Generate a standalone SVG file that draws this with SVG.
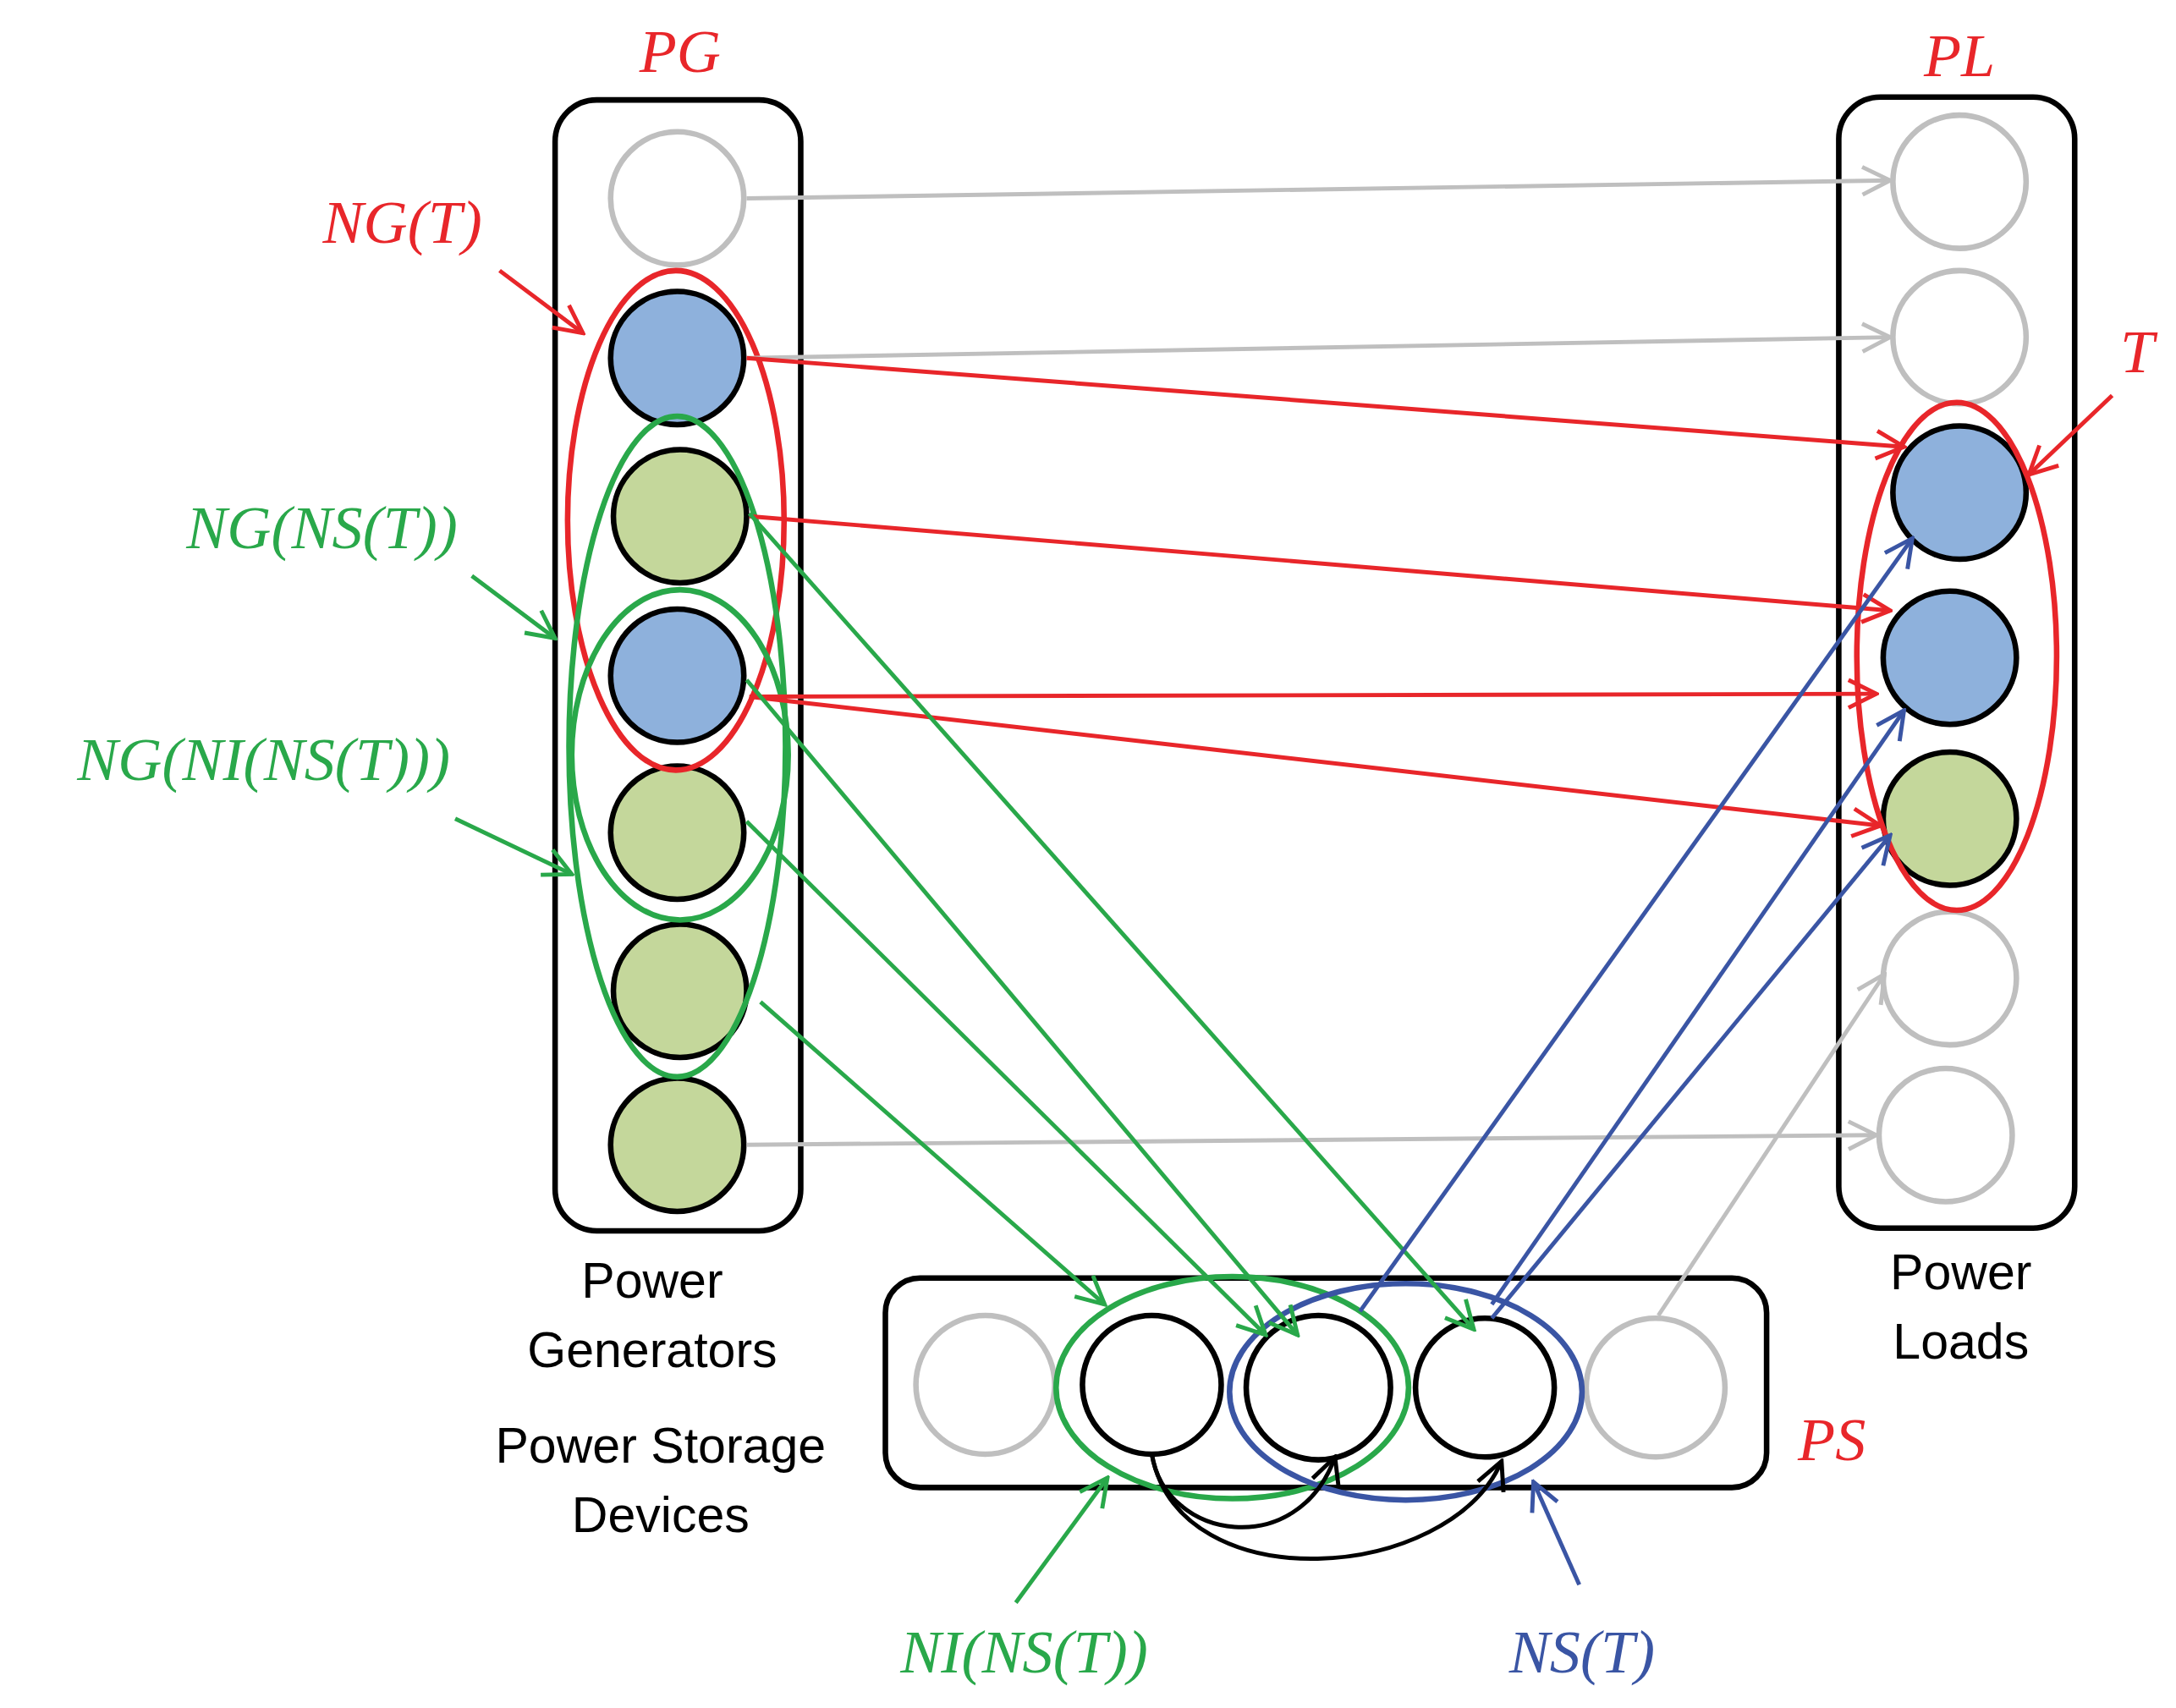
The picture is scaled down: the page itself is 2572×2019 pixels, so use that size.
<svg xmlns="http://www.w3.org/2000/svg" width="2572" height="2019" viewBox="0 0 2572 2019">
<defs>
<style>
.box{fill:none;stroke:#000;stroke-width:4}
.n{stroke:#000;stroke-width:4}
.g{fill:#fff;stroke:#bfbfbf;stroke-width:4}
.b{fill:#8eb1dc}.v{fill:#c4d79b}.w{fill:#fff}
.e{fill:none;stroke-width:4}
.lg{stroke:#bfbfbf;stroke-width:3;fill:none}
.lr{stroke:#e8262a;stroke-width:3;fill:none}
.lv{stroke:#29a84a;stroke-width:3;fill:none}
.lb{stroke:#3a55a4;stroke-width:3;fill:none}
.lk{stroke:#000;stroke-width:3;fill:none}
.m{font-family:"Liberation Serif",serif;font-style:italic;font-size:44px;text-anchor:middle}
.t{font-family:"Liberation Sans",sans-serif;font-size:36px;text-anchor:middle}
</style>
<marker id="ag" viewBox="0 0 12 12" refX="11" refY="6" markerWidth="24" markerHeight="24" markerUnits="userSpaceOnUse" orient="auto"><path d="M1,1 L11,6 L1,11" fill="none" stroke="#bfbfbf" stroke-width="1.5"/></marker>
<marker id="ar" viewBox="0 0 12 12" refX="11" refY="6" markerWidth="24" markerHeight="24" markerUnits="userSpaceOnUse" orient="auto"><path d="M1,1 L11,6 L1,11" fill="none" stroke="#e8262a" stroke-width="1.5"/></marker>
<marker id="av" viewBox="0 0 12 12" refX="11" refY="6" markerWidth="24" markerHeight="24" markerUnits="userSpaceOnUse" orient="auto"><path d="M1,1 L11,6 L1,11" fill="none" stroke="#29a84a" stroke-width="1.5"/></marker>
<marker id="ab" viewBox="0 0 12 12" refX="11" refY="6" markerWidth="24" markerHeight="24" markerUnits="userSpaceOnUse" orient="auto"><path d="M1,1 L11,6 L1,11" fill="none" stroke="#3a55a4" stroke-width="1.5"/></marker>
<marker id="ak" viewBox="0 0 12 12" refX="11" refY="6" markerWidth="24" markerHeight="24" markerUnits="userSpaceOnUse" orient="auto"><path d="M1,1 L11,6 L1,11" fill="none" stroke="#000" stroke-width="1.5"/></marker>
</defs>
<rect width="2572" height="2019" fill="#fff"/>
<g transform="scale(1.6403)">
<g id="PG">
<rect class="box" x="400" y="72" width="177" height="815" rx="30"/>
<circle class="g" cx="488" cy="143" r="48"/>
<circle class="n b" cx="488" cy="258" r="48"/>
<circle class="n v" cx="490" cy="372" r="48"/>
<circle class="n b" cx="488" cy="487" r="48"/>
<circle class="n v" cx="488" cy="600" r="48"/>
<circle class="n v" cx="490" cy="714" r="48"/>
<circle class="n v" cx="488" cy="825" r="48"/>
<ellipse class="e" stroke="#e8262a" cx="487" cy="375" rx="78" ry="180"/>
<ellipse class="e" stroke="#29a84a" cx="488" cy="538" rx="78" ry="238"/>
<ellipse class="e" stroke="#29a84a" cx="490" cy="544" rx="78" ry="119"/>
<text class="m" x="490" y="52" fill="#e8262a">PG</text>
<text class="t" x="470" y="935">Power</text>
<text class="t" x="470" y="985">Generators</text>
</g>
<g id="PL">
<rect class="box" x="1325" y="70" width="170" height="815" rx="30"/>
<circle class="g" cx="1412" cy="131" r="48"/>
<circle class="g" cx="1412" cy="243" r="48"/>
<circle class="n b" cx="1412" cy="355" r="48"/>
<circle class="n b" cx="1405" cy="474" r="48"/>
<circle class="n v" cx="1405" cy="590" r="48"/>
<circle class="g" cx="1405" cy="705" r="48"/>
<circle class="g" cx="1402" cy="818" r="48"/>
<ellipse class="e" stroke="#e8262a" cx="1410" cy="473" rx="72" ry="183"/>
<text class="m" x="1412" y="55" fill="#e8262a">PL</text>
<text class="t" x="1413" y="929">Power</text>
<text class="t" x="1413" y="979">Loads</text>
</g>
<g id="PS">
<rect class="box" x="638" y="921" width="635" height="151" rx="25"/>
<circle class="g" cx="710" cy="998" r="50"/>
<circle class="n w" cx="830" cy="998" r="50"/>
<circle class="n w" cx="950" cy="1000" r="52"/>
<circle class="n w" cx="1070" cy="1000" r="50"/>
<circle class="g" cx="1193" cy="1000" r="50"/>
<ellipse class="e" stroke="#29a84a" cx="888" cy="1000" rx="127" ry="80"/>
<ellipse class="e" stroke="#3a55a4" cx="1013" cy="1003" rx="127" ry="78"/>
<text class="m" x="1320" y="1052" fill="#e8262a">PS</text>
<text class="t" x="476" y="1054">Power Storage</text>
<text class="t" x="476" y="1104">Devices</text>
</g>
<g id="labels">
<text class="m" x="290" y="175" fill="#e8262a">NG(T)</text>
<text class="m" x="232" y="395" fill="#29a84a">NG(NS(T))</text>
<text class="m" x="190" y="562" fill="#29a84a">NG(NI(NS(T)))</text>
<text class="m" x="1540" y="268" fill="#e8262a">T</text>
<text class="m" x="738" y="1205" fill="#29a84a">NI(NS(T))</text>
<text class="m" x="1140" y="1205" fill="#3a55a4">NS(T)</text>
</g>
<g id="connectors">
<path class="lg" marker-end="url(#ag)" d="M538,143 L1362,130"/>
<path class="lg" marker-end="url(#ag)" d="M538,258 L1362,243"/>
<path class="lg" marker-end="url(#ag)" d="M538,825 L1352,818"/>
<path class="lg" marker-end="url(#ag)" d="M1195,948 L1358,702"/>
<path class="lr" marker-end="url(#ar)" d="M538,258 L1372,322"/>
<path class="lr" marker-end="url(#ar)" d="M540,372 L1362,440"/>
<path class="lr" marker-end="url(#ar)" d="M540,502 L1352,500"/>
<path class="lr" marker-end="url(#ar)" d="M540,502 L1355,595"/>
<path class="lv" marker-end="url(#av)" d="M540,370 L1062,958"/>
<path class="lv" marker-end="url(#av)" d="M538,490 L935,962"/>
<path class="lv" marker-end="url(#av)" d="M538,592 L912,962"/>
<path class="lv" marker-end="url(#av)" d="M548,722 L796,940"/>
<path class="lb" marker-end="url(#ab)" d="M980,945 L1378,388"/>
<path class="lb" marker-end="url(#ab)" d="M1075,940 L1372,512"/>
<path class="lb" marker-end="url(#ab)" d="M1075,950 L1362,602"/>
<path class="lk" marker-end="url(#ak)" d="M830,1048 C840,1110 935,1125 962,1050"/>
<path class="lk" marker-end="url(#ak)" d="M830,1048 C850,1155 1045,1140 1082,1053"/>
<path class="lr" stroke-width="4" marker-end="url(#ar)" d="M360,195 L420,240"/>
<path class="lv" stroke-width="4" marker-end="url(#av)" d="M340,415 L400,460"/>
<path class="lv" stroke-width="4" marker-end="url(#av)" d="M328,590 L412,630"/>
<path class="lr" stroke-width="4" marker-end="url(#ar)" d="M1522,285 L1462,342"/>
<path class="lv" stroke-width="4" marker-end="url(#av)" d="M732,1155 L798,1065"/>
<path class="lb" stroke-width="4" marker-end="url(#ab)" d="M1138,1142 L1105,1068"/>
</g>
</g>
</svg>
